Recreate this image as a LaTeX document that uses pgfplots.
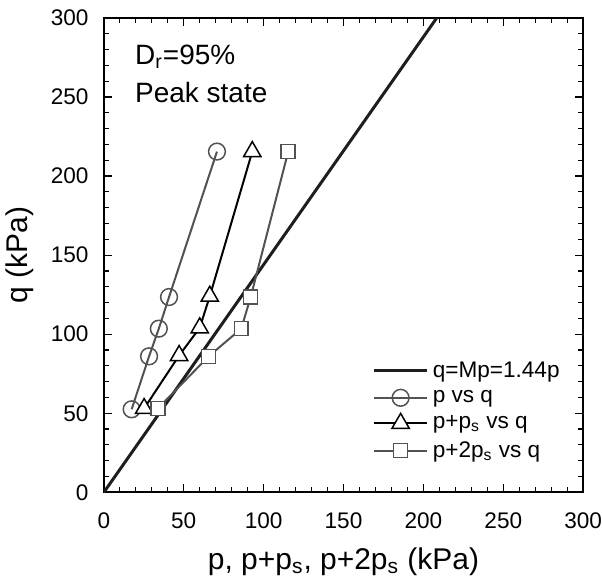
\documentclass[border=0pt]{standalone}
\usepackage{fontspec}
\setmainfont{Liberation Sans}
\usepackage{pgfplots}
\pgfplotsset{compat=1.18}
\definecolor{dgray}{RGB}{82,82,82}
\definecolor{lineblk}{RGB}{30,30,30}

\begin{document}
\begin{tikzpicture}
\begin{axis}[
  scale only axis,
  width=240pt, height=237.5pt,
  xmin=0, xmax=300, ymin=0, ymax=300,
  xtick={0,50,...,300}, ytick={0,50,...,300},
  minor tick num=4,
  tick pos=both, tick align=inside,
  major tick length=4pt, minor tick length=2.5pt,
  axis line style={line width=0.85pt},
  every tick/.style={black, line width=0.6pt},
  tick label style={font=\fontsize{11.3}{13}\selectfont, inner sep=0pt},
  /pgf/number format/assume math mode=true,
  xticklabel style={yshift=-10pt},
  yticklabel style={xshift=-7.5pt},
  xlabel={p, p+p\textsubscript{s}, p+2p\textsubscript{s} (kPa)},
  ylabel={q (kPa)},
  label style={font=\fontsize{15}{18}\selectfont, inner sep=0pt},
  xlabel style={at={(axis description cs:0.5,-0.1621)}, anchor=base},
  ylabel style={at={(axis description cs:-0.1583,0.5)}, anchor=base},
  legend cell align=left,
  legend style={at={(0.547,0.293)}, anchor=north west, draw=none, fill=none,
    font=\fontsize{11.3}{13}\selectfont, row sep=1pt},
  legend image code/.code={\draw[mark repeat=2, mark phase=2]
    plot coordinates {(0cm,0cm) (0.47cm,0cm) (0.94cm,0cm)};},
]
% failure line q = 1.44 p
\addplot[lineblk, line width=1.5pt] coordinates {(0,0) (208.33,300)};
\addlegendentry{q=Mp=1.44p}

\addplot[dgray, line width=1pt, mark=o, mark size=4.2pt,
  mark options={fill=white, line width=0.75pt}] coordinates {
  (17.4,52.5) (28.3,86) (34.4,103.5) (40.8,123.5) (70.8,215.5)};
\addlegendentry{p vs q}

\addplot[black, line width=1pt, mark=triangle*, mark size=5pt,
  mark options={fill=white, line width=0.75pt}] coordinates {
  (25.2,53) (47.1,86.5) (60,104) (66.3,124) (92.9,215.5)};
\addlegendentry{p+p\textsubscript{s} vs q}

\addplot[dgray, line width=1pt, mark=square*, mark size=3.5pt,
  mark options={fill=white, line width=0.75pt}] coordinates {
  (33.8,53) (65.6,86) (86,103.5) (91.9,123.5) (115.4,215.5)};
\addlegendentry{p+2p\textsubscript{s} vs q}

\node[anchor=west, font=\fontsize{14}{16}\selectfont, inner sep=0pt]
  at (axis cs:19.4,275.4) {D\textsubscript{r}=95\%};
\node[anchor=west, font=\fontsize{14}{16}\selectfont, inner sep=0pt]
  at (axis cs:19.4,252.7) {Peak state};
\end{axis}
\path (current axis.south west) ++(-52pt,-45pt)
  (current axis.north east) ++(9pt,9pt);
\end{tikzpicture}
\end{document}
